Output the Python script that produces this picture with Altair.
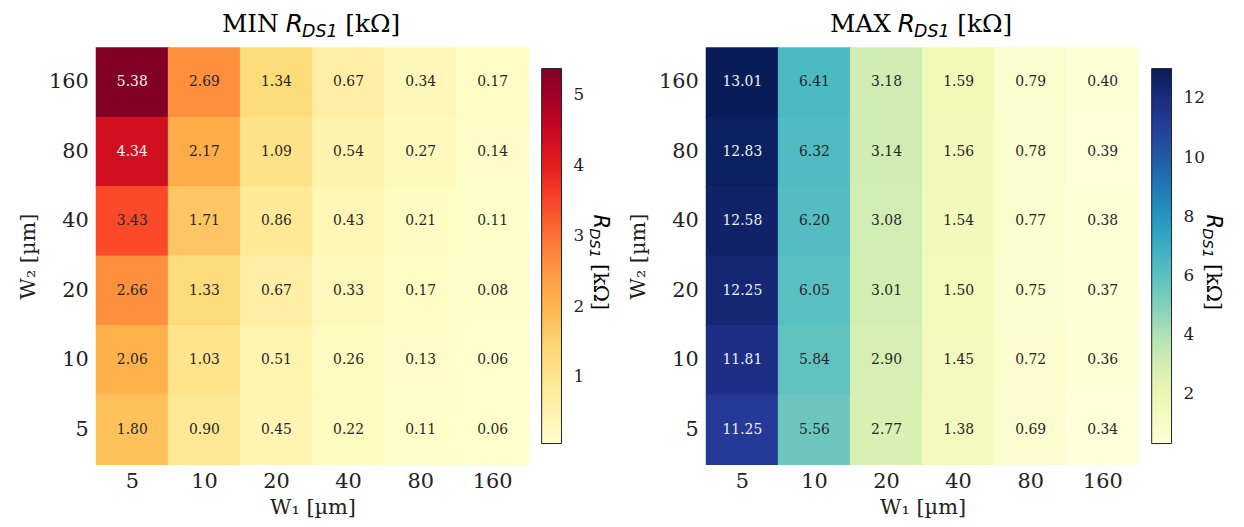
import altair as alt
import pandas as pd

# ---- data -------------------------------------------------------------
w1_labels = ["5", "10", "20", "40", "80", "160"]
w2_labels = ["160", "80", "40", "20", "10", "5"]   # top -> bottom

min_rows = [
    [5.38, 2.69, 1.34, 0.67, 0.34, 0.17],
    [4.34, 2.17, 1.09, 0.54, 0.27, 0.14],
    [3.43, 1.71, 0.86, 0.43, 0.21, 0.11],
    [2.66, 1.33, 0.67, 0.33, 0.17, 0.08],
    [2.06, 1.03, 0.51, 0.26, 0.13, 0.06],
    [1.80, 0.90, 0.45, 0.22, 0.11, 0.06],
]
max_rows = [
    [13.01, 6.41, 3.18, 1.59, 0.79, 0.40],
    [12.83, 6.32, 3.14, 1.56, 0.78, 0.39],
    [12.58, 6.20, 3.08, 1.54, 0.77, 0.38],
    [12.25, 6.05, 3.01, 1.50, 0.75, 0.37],
    [11.81, 5.84, 2.90, 1.45, 0.72, 0.36],
    [11.25, 5.56, 2.77, 1.38, 0.69, 0.34],
]
min_cbar_ticks = [1, 2, 3, 4, 5]
max_cbar_ticks = [2, 4, 6, 8, 10, 12]

# ColorBrewer stops (matplotlib YlOrRd / YlGnBu)
ylorrd = ["#ffffcc", "#ffeda0", "#fed976", "#feb24c", "#fd8d3c",
          "#fc4e2a", "#e31a1c", "#bd0026", "#800026"]
ylgnbu = ["#ffffd9", "#edf8b1", "#c7e9b4", "#7fcdbb", "#41b6c4",
          "#1d91c0", "#225ea8", "#253494", "#081d58"]

SERIF = "DejaVu Serif"
SANS = "DejaVu Sans"
W, H = 436, 420


def to_long(rows):
    recs = []
    for i, w2 in enumerate(w2_labels):
        for j, w1 in enumerate(w1_labels):
            recs.append({"w1": w1, "w2": w2, "v": rows[i][j]})
    return pd.DataFrame(recs)


def piece(text, x, y, font, size, style="normal", align="left", angle=0):
    return alt.Chart(alt.InlineData(values=[{"t": text}])).mark_text(
        font=font, fontSize=size, fontStyle=style, align=align,
        baseline="alphabetic", angle=angle, color="black"
    ).encode(text="t:N", x=alt.value(x), y=alt.value(y))


def panel(rows, colors, prefix, thr, ticks, rx, cb_x):
    df = to_long(rows)
    vmin, vmax = float(df.v.min()), float(df.v.max())
    x = alt.X("w1:O", sort=w1_labels, title="W₁ [µm]",
              axis=alt.Axis(labelAngle=0, ticks=False, domain=False,
                            labelPadding=6, titlePadding=6))
    y = alt.Y("w2:O", sort=w2_labels, title="W₂ [µm]",
              axis=alt.Axis(ticks=False, domain=False, labelPadding=8,
                            titlePadding=10))
    rect = alt.Chart(df).mark_rect(
        width=alt.RelativeBandSize(1.015), height=alt.RelativeBandSize(1.015)
    ).encode(
        x=x, y=y,
        color=alt.Color(
            "v:Q",
            scale=alt.Scale(domain=[vmin, vmax], range=colors,
                            interpolate="rgb"),
            legend=alt.Legend(
                type="gradient",
                orient="none", legendX=449, legendY=21, direction="vertical",
                gradientLength=378, gradientThickness=20,
                gradientStrokeColor="#222222", gradientStrokeWidth=1,
                values=ticks, title=None, labelFont=SERIF, labelFontSize=17,
                labelColor="#222222", labelOffset=12, labelOverlap=False,
                padding=0,
            ),
        ),
    )
    txt = alt.Chart(df).mark_text(font=SERIF, fontSize=14).encode(
        x=x, y=y,
        text=alt.Text("v:Q", format=".2f"),
        color=alt.condition(f"datum.v > {thr}", alt.value("#f0f0f0"),
                            alt.value("#262626")),
    )
    # title pieces:  PREFIX R_{DS1} [kΩ]
    ty = -16
    title = [
        piece(prefix, rx - 7, ty, SERIF, 25, align="right"),
        piece("R", rx, ty, SANS, 25, style="italic"),
        piece("DS1", rx + 16.5, ty + 5, SANS, 17.5, style="italic"),
        piece("[kΩ]", rx + 60, ty, SERIF, 25),
    ]
    # colorbar label (rotated)
    cy = 168
    cbl = [
        piece("R", cb_x, cy, SANS, 21, style="italic", angle=90),
        piece("DS1", cb_x - 4, cy + 14, SANS, 14.7, style="italic", angle=90),
        piece("[kΩ]", cb_x, cy + 50, SERIF, 21, angle=90),
    ]
    return alt.layer(rect, txt, *title, *cbl).properties(width=W, height=H)


left = panel(min_rows, ylorrd, "MIN", 4, min_cbar_ticks, 191, 502)
right = panel(max_rows, ylgnbu, "MAX", 10, max_cbar_ticks, 193, 505)

chart = alt.hconcat(left, right, spacing=16).resolve_scale(
    color="independent"
).resolve_legend(color="independent").configure(
    padding={"left": 9, "top": 2, "right": 12, "bottom": 0}
).configure_view(stroke=None).configure_axis(
    labelFont=SERIF, labelFontSize=21, labelColor="#222222",
    titleFont=SERIF, titleFontSize=21, titleFontWeight="normal",
    titleColor="#222222",
)

chart.save("out.html", embed_options={"renderer": "svg", "actions": False})
